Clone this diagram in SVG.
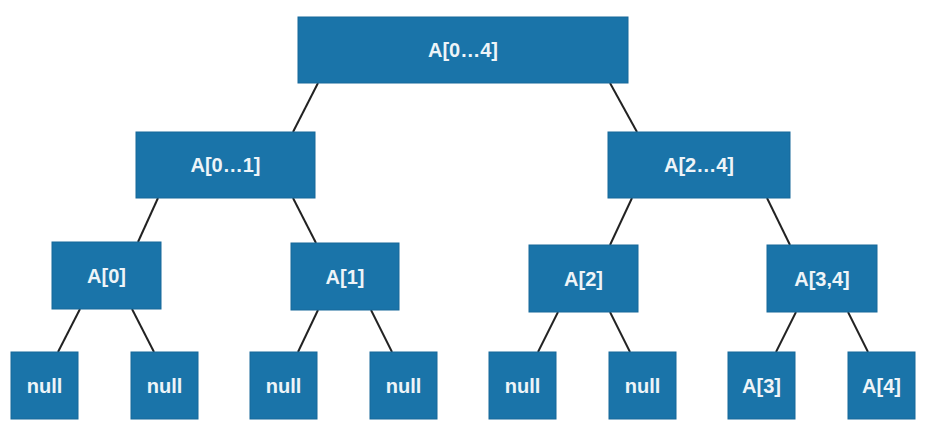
<svg xmlns="http://www.w3.org/2000/svg" width="931" height="444" viewBox="0 0 931 444">
<style>
.n rect{fill:#1a74a9;stroke:#16689a;stroke-width:1}
.n text{fill:#eef4f8;font-family:"Liberation Sans",Arial,sans-serif;font-weight:bold;font-size:20px;text-anchor:middle;dominant-baseline:central}
.c line{stroke:#222;stroke-width:2}
</style>
<rect width="931" height="444" fill="#fff"/>
<g class="c">
<line x1="318" y1="83" x2="293" y2="132"/>
<line x1="610" y1="83" x2="637" y2="132"/>
<line x1="158" y1="198" x2="138" y2="242"/>
<line x1="293" y1="198" x2="316" y2="243"/>
<line x1="632" y1="198" x2="610" y2="245"/>
<line x1="767" y1="198" x2="790" y2="245"/>
<line x1="80" y1="309" x2="58" y2="352"/>
<line x1="132" y1="309" x2="154" y2="352"/>
<line x1="318" y1="310" x2="298" y2="352"/>
<line x1="371" y1="310" x2="392" y2="352"/>
<line x1="558" y1="312" x2="538" y2="352"/>
<line x1="610" y1="312" x2="630" y2="352"/>
<line x1="796" y1="312" x2="776" y2="352"/>
<line x1="848" y1="312" x2="868" y2="352"/>
</g>
<g id="n04" class="n"><rect x="298" y="17" width="330" height="66"/><text x="463" y="50">A[0…4]</text></g>
<g id="n01" class="n"><rect x="136" y="132" width="179" height="66"/><text x="225.5" y="165">A[0…1]</text></g>
<g id="n24" class="n"><rect x="608" y="132" width="182" height="66"/><text x="699" y="165">A[2…4]</text></g>
<g id="n0" class="n"><rect x="52" y="242" width="109" height="67"/><text x="106.5" y="275.5">A[0]</text></g>
<g id="n1" class="n"><rect x="291" y="243" width="108" height="67"/><text x="345" y="276.5">A[1]</text></g>
<g id="n2" class="n"><rect x="529" y="245" width="109" height="67"/><text x="583.5" y="278.5">A[2]</text></g>
<g id="n34" class="n"><rect x="767" y="245" width="110" height="67"/><text x="822" y="278.5">A[3,4]</text></g>
<g id="null1" class="n"><rect x="11" y="352" width="67" height="67"/><text x="44.5" y="385.5">null</text></g>
<g id="null2" class="n"><rect x="131" y="352" width="67" height="67"/><text x="164.5" y="385.5">null</text></g>
<g id="null3" class="n"><rect x="250" y="352" width="67" height="67"/><text x="283.5" y="385.5">null</text></g>
<g id="null4" class="n"><rect x="370" y="352" width="67" height="67"/><text x="403.5" y="385.5">null</text></g>
<g id="null5" class="n"><rect x="489" y="352" width="67" height="67"/><text x="522.5" y="385.5">null</text></g>
<g id="null6" class="n"><rect x="609" y="352" width="67" height="67"/><text x="642.5" y="385.5">null</text></g>
<g id="n3" class="n"><rect x="728" y="352" width="67" height="67"/><text x="761.5" y="385.5">A[3]</text></g>
<g id="n4" class="n"><rect x="848" y="352" width="67" height="67"/><text x="881.5" y="385.5">A[4]</text></g>
</svg>
